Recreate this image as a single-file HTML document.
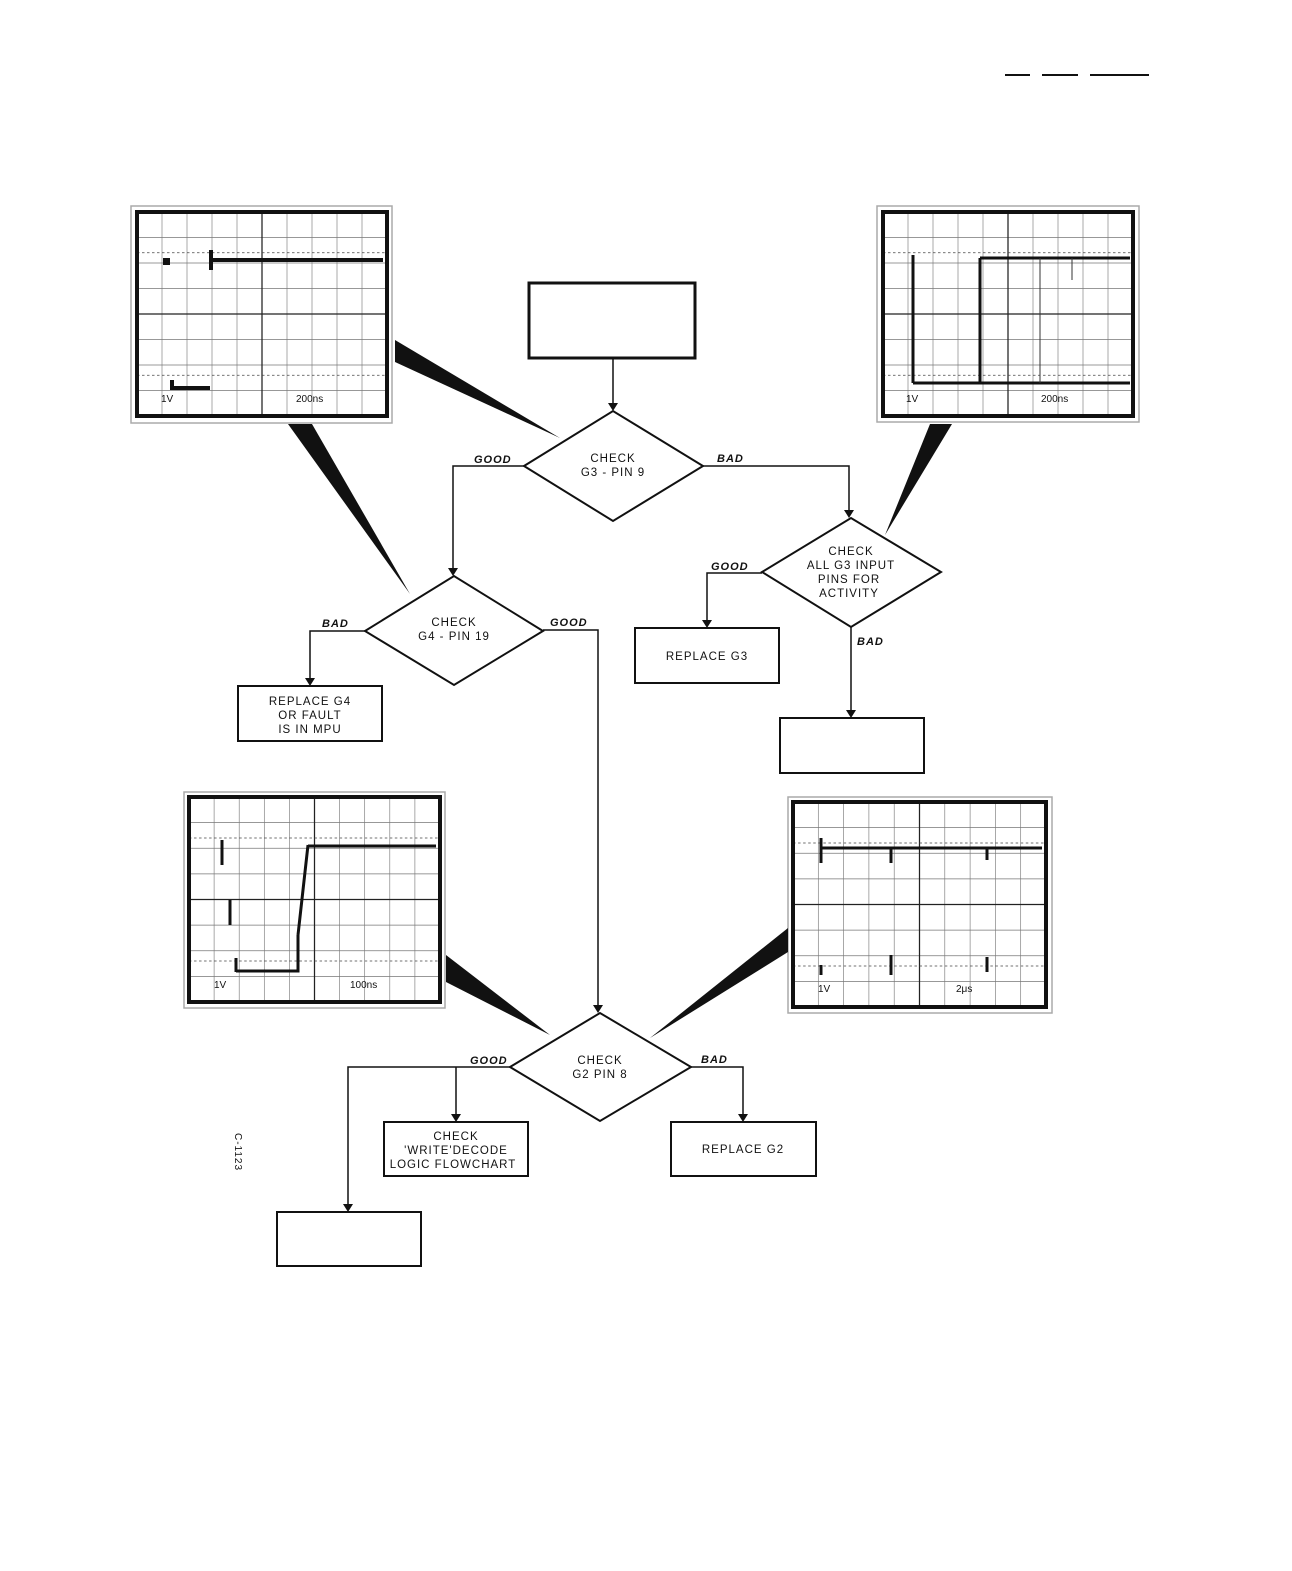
<!DOCTYPE html>
<html><head><meta charset="utf-8"><style>
html,body{margin:0;padding:0;background:#fff}
svg{display:block}
.t{font-family:"Liberation Sans",sans-serif;font-size:11.5px;letter-spacing:1px;fill:#111}
.l{font-family:"Liberation Sans",sans-serif;font-size:11px;font-style:italic;font-weight:bold;letter-spacing:1px;fill:#111}
.s{font-family:"Liberation Sans",sans-serif;font-size:10px;fill:#111}
</style></head><body>
<svg width="1292" height="1571" viewBox="0 0 1292 1571" xmlns="http://www.w3.org/2000/svg">
<defs>
<symbol id="grid" viewBox="0 0 100 80" preserveAspectRatio="none">
<rect x="0" y="0" width="100" height="80" fill="#fff"/>
<g stroke="#777" stroke-width="0.25">
<path d="M10 0V80M20 0V80M30 0V80M40 0V80M60 0V80M70 0V80M80 0V80M90 0V80M0 10H100M0 20H100M0 30H100M0 50H100M0 60H100M0 70H100"/>
</g>
<g stroke="#222" stroke-width="0.5"><path d="M50 0V80M0 40H100"/></g>
<g stroke="#444" stroke-width="0.3" stroke-dasharray="1 1"><path d="M0 16H100M0 64H100"/></g>
</symbol>
</defs>
<g stroke="#111" stroke-width="2"><path d="M1005 75H1030M1042 75H1078M1090 75H1149"/></g>

<!-- scopes -->
<rect x="131" y="206" width="261" height="217" fill="#fff" stroke="#aaa" stroke-width="1.5"/>
<use href="#grid" x="137" y="212" width="250" height="204"/>
<rect x="137" y="212" width="250" height="204" fill="none" stroke="#111" stroke-width="4"/>
<path d="M165 263h3v-3h-3zM211 250v20M211 260H383" stroke="#111" stroke-width="4" fill="none"/>
<path d="M172 380v10M172 388H210" stroke="#111" stroke-width="4" fill="none"/>
<text class="s" x="161" y="402">1V</text><text class="s" x="296" y="402">200ns</text>

<rect x="877" y="206" width="262" height="216" fill="#fff" stroke="#aaa" stroke-width="1.5"/>
<use href="#grid" x="883" y="212" width="250" height="204"/>
<rect x="883" y="212" width="250" height="204" fill="none" stroke="#111" stroke-width="4"/>
<path d="M913 255V383M913 383H1130M980 258H1130M980 258V383" stroke="#111" stroke-width="3" fill="none"/>
<path d="M1040 258V383M1072 258V280" stroke="#333" stroke-width="1" fill="none"/>
<text class="s" x="906" y="402">1V</text><text class="s" x="1041" y="402">200ns</text>

<rect x="184" y="792" width="261" height="216" fill="#fff" stroke="#aaa" stroke-width="1.5"/>
<use href="#grid" x="189" y="797" width="251" height="205"/>
<rect x="189" y="797" width="251" height="205" fill="none" stroke="#111" stroke-width="4"/>
<path d="M222 840v25M230 900v25M236 958v14M236 971H298V935M298 935L308 845M308 846H436" stroke="#111" stroke-width="3" fill="none"/>
<text class="s" x="214" y="988">1V</text><text class="s" x="350" y="988">100ns</text>

<rect x="788" y="797" width="264" height="216" fill="#fff" stroke="#aaa" stroke-width="1.5"/>
<use href="#grid" x="793" y="802" width="253" height="205"/>
<rect x="793" y="802" width="253" height="205" fill="none" stroke="#111" stroke-width="4"/>
<path d="M821 838v25M821 848H1042M891 848v15M987 848v12M821 965v10M891 955v20M987 957v15" stroke="#111" stroke-width="3" fill="none"/>
<text class="s" x="818" y="992">1V</text><text class="s" x="956" y="992">2μs</text>

<!-- wedges -->
<g fill="#111">
<polygon points="395,340 395,362 560,438"/>
<polygon points="288,424 312,424 410,594"/>
<polygon points="930,424 952,424 885,535"/>
<polygon points="446,955 446,982 550,1035"/>
<polygon points="788,928 788,952 650,1038"/>
</g>

<!-- boxes -->
<rect x="529" y="283" width="166" height="75" fill="#fff" stroke="#111" stroke-width="3"/>
<g fill="#fff" stroke="#111" stroke-width="2">
<rect x="635" y="628" width="144" height="55"/>
<rect x="780" y="718" width="144" height="55"/>
<rect x="238" y="686" width="144" height="55"/>
<rect x="384" y="1122" width="144" height="54"/>
<rect x="671" y="1122" width="145" height="54"/>
<rect x="277" y="1212" width="144" height="54"/>
<polygon points="524,466 613,411 703,466 613,521"/>
<polygon points="762,572 851,518 941,572 851,627"/>
<polygon points="365,631 454,576 543,631 454,685"/>
<polygon points="510,1067 600,1013 691,1067 600,1121"/>
</g>

<!-- connectors -->
<g stroke="#111" stroke-width="1.5" fill="none">
<path d="M613 358V405M524 466H453V570M703 466H849V512M762 573H707V622M851 627V712M365 631H310V680M543 630H598V1007M510 1067H348V1206M456 1067V1116M691 1067H743V1116"/>
</g>
<g fill="#111">
<polygon points="608,403 618,403 613,411"/>
<polygon points="448,568 458,568 453,576"/>
<polygon points="844,510 854,510 849,518"/>
<polygon points="702,620 712,620 707,628"/>
<polygon points="846,710 856,710 851,718"/>
<polygon points="305,678 315,678 310,686"/>
<polygon points="593,1005 603,1005 598,1013"/>
<polygon points="343,1204 353,1204 348,1212"/>
<polygon points="451,1114 461,1114 456,1122"/>
<polygon points="738,1114 748,1114 743,1122"/>
</g>

<!-- text -->
<g class="t" text-anchor="middle">
<text x="613" y="462">CHECK</text><text x="613" y="476">G3 - PIN 9</text>
<text x="851" y="555">CHECK</text><text x="851" y="569">ALL G3 INPUT</text><text x="849" y="583">PINS FOR</text><text x="849" y="597">ACTIVITY</text>
<text x="454" y="626">CHECK</text><text x="454" y="640">G4 - PIN 19</text>
<text x="600" y="1064">CHECK</text><text x="600" y="1078">G2 PIN 8</text>
<text x="707" y="660">REPLACE G3</text>
<text x="310" y="705">REPLACE G4</text><text x="310" y="719">OR FAULT</text><text x="310" y="733">IS IN MPU</text>
<text x="456" y="1140">CHECK</text><text x="456" y="1154">'WRITE'DECODE</text><text x="453" y="1168">LOGIC FLOWCHART</text>
<text x="743" y="1153">REPLACE G2</text>
</g>
<g class="l">
<text x="474" y="463">GOOD</text><text x="717" y="462">BAD</text>
<text x="711" y="570">GOOD</text><text x="857" y="645">BAD</text>
<text x="322" y="627">BAD</text><text x="550" y="626">GOOD</text>
<text x="470" y="1064">GOOD</text><text x="701" y="1063">BAD</text>
</g>
<text class="s" x="0" y="0" transform="translate(235,1133) rotate(90)" letter-spacing="1">C-1123</text>
</svg>
</body></html>
